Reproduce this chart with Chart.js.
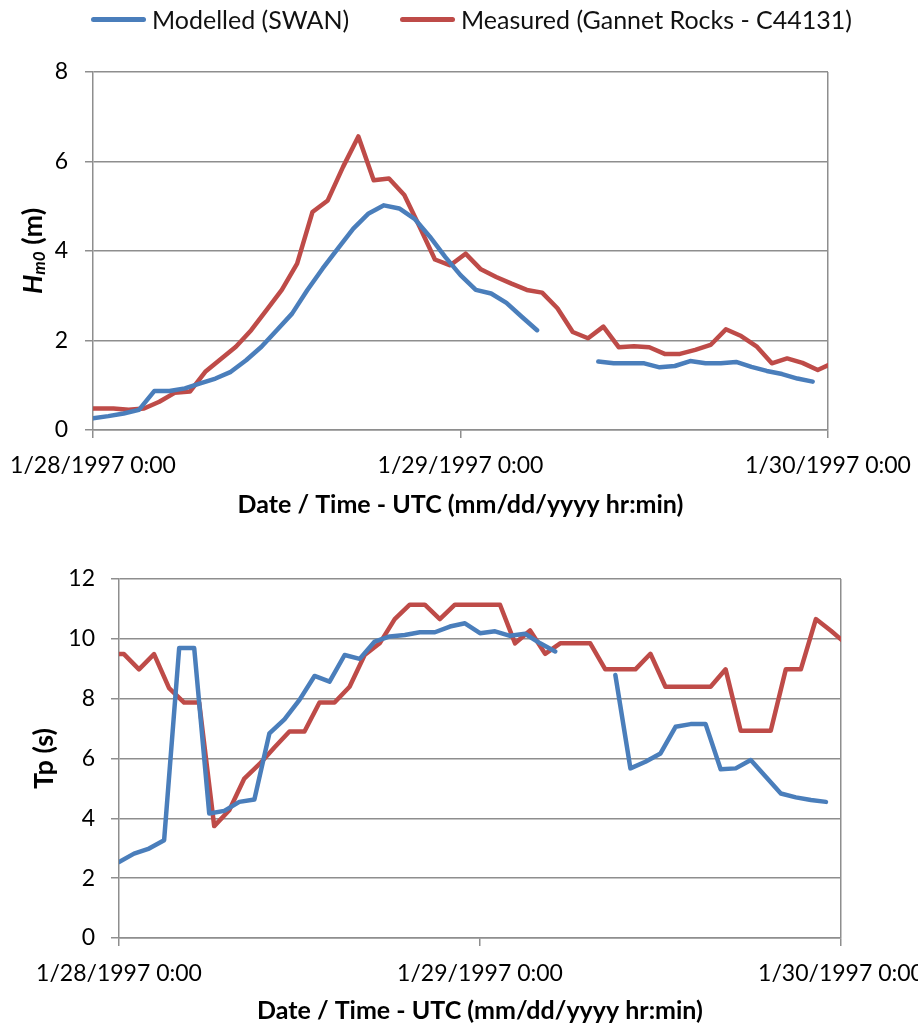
<!DOCTYPE html>
<html>
<head>
<meta charset="utf-8"/>
<title>SWAN vs Gannet Rocks</title>
<script src="https://cdn.jsdelivr.net/npm/chart.js@4.4.1/dist/chart.umd.min.js"></script>
<style>
	body { margin: 0; background: #fff; }
	#wrap { position: relative; width: 918px; height: 1029px; overflow: hidden; }
	canvas { position: absolute; left: 0; }
	#hmChart { top: 0; }
	#tpChart { top: 530px; }
	.legend-item { position: absolute; top: 4px; height: 30px; display: flex; align-items: center; font: 25px Lato, sans-serif; color: #111; white-space: nowrap; }
	.legend-item i { display: inline-block; width: 55px; height: 5px; border-radius: 3px; margin-right: 6px; }
</style>
</head>
<body>
<div id="wrap">
	<canvas id="hmChart" width="918" height="530"></canvas>
	<canvas id="tpChart" width="918" height="499"></canvas>
	<div class="legend-item" style="left:91px"><i style="background:#4a7ebb"></i>Modelled (SWAN)</div>
	<div class="legend-item" style="left:400px"><i style="background:#be4b48"></i>Measured (Gannet Rocks - C44131)</div>
</div>
<script>
	// tick positions (hours after 1/28/1997 0:00) and their labels
	const tickHours = [0, 24, 48];
	const tickLabels = ['1/28/1997 0:00', '1/29/1997 0:00', '1/30/1997 0:00'];

	// model output is hourly from 0:00, buoy records are at about hh:20, starting the hour before
	const modelStart = 0;
	const measuredStart = -0.67;

	// significant wave height Hm0 (m)
	const modelHm0 = [0.26, 0.31, 0.37, 0.45, 0.87, 0.87, 0.93, 1.04, 1.15, 1.30, 1.56, 1.86,
		2.23, 2.60, 3.13, 3.61, 4.06, 4.50, 4.84, 5.02, 4.95, 4.72, 4.32, 3.87,
		3.46, 3.13, 3.05, 2.84, 2.53, 2.23, null, null, null, 1.53, 1.49, 1.49,
		1.49, 1.40, 1.43, 1.54, 1.49, 1.49, 1.52, 1.41, 1.32, 1.25, 1.15, 1.08];
	const measuredHm0 = [0.48, 0.48, 0.48, 0.45, 0.48, 0.63, 0.83, 0.86, 1.30, 1.58, 1.86, 2.23, 2.68,
		3.13, 3.72, 4.87, 5.13, 5.88, 6.56, 5.58, 5.62, 5.25, 4.54, 3.81, 3.68,
		3.94, 3.59, 3.42, 3.27, 3.13, 3.07, 2.72, 2.19, 2.05, 2.31, 1.85, 1.87,
		1.85, 1.70, 1.70, 1.79, 1.90, 2.25, 2.10, 1.87, 1.49, 1.60, 1.50, 1.34, 1.50];

	// peak period Tp (s)
	const modelTp = [2.54, 2.82, 2.99, 3.27, 9.69, 9.69, 4.16, 4.25, 4.55, 4.63, 6.84, 7.31,
		7.96, 8.76, 8.57, 9.46, 9.33, 9.91, 10.08, 10.13, 10.22, 10.22, 10.41, 10.52,
		10.19, 10.25, 10.10, 10.17, 9.85, 9.58, null, null, null, 8.79, 5.67, 5.89,
		6.17, 7.06, 7.15, 7.15, 5.64, 5.67, 5.95, 5.39, 4.83, 4.70, 4.61, 4.55];
	const measuredTp = [9.49, 9.49, 8.98, 9.49, 8.35, 7.87, 7.87, 3.74, 4.27, 5.33, 5.81, 6.37, 6.90,
		6.90, 7.87, 7.87, 8.40, 9.46, 9.85, 10.66, 11.14, 11.14, 10.66, 11.14, 11.14,
		11.14, 11.14, 9.85, 10.28, 9.50, 9.85, 9.85, 9.85, 8.98, 8.98, 8.98, 9.50,
		8.40, 8.40, 8.40, 8.40, 8.98, 6.93, 6.93, 6.93, 8.98, 8.98, 10.66, 10.27, 9.84];

	const blue = '#4a7ebb';
	const red = '#be4b48';
	const gridColor = '#8e8e8e';
	const fontFamily = 'Lato, sans-serif';

	function toPoints(values, start)
	{
		return values.map((v, i) => ({ x: start + i, y: v }));
	}

	// rotated y axis title, drawn in pieces so Hm0 can have its subscript
	const yTitlePlugin = {
		id: 'yTitle',
		afterDraw(chart, args, opts)
		{
			const ctx = chart.ctx;
			const area = chart.chartArea;
			ctx.save();
			ctx.translate(opts.x, (area.top + area.bottom) / 2);
			ctx.rotate(-Math.PI / 2);
			ctx.fillStyle = '#000';
			ctx.textBaseline = 'middle';
			let total = 0;
			opts.parts.forEach(p => { ctx.font = p.font; total += ctx.measureText(p.text).width; });
			let x = -total / 2;
			opts.parts.forEach(p =>
			{
				ctx.font = p.font;
				ctx.fillText(p.text, x, p.dy || 0);
				x += ctx.measureText(p.text).width;
			});
			ctx.restore();
		}
	};

	function makeChart(id, cfg)
	{
		const tickFont = { family: fontFamily, size: 23 };
		return new Chart(document.getElementById(id), {
			type: 'line',
			data: {
				datasets: [
					{
						label: 'Modelled (SWAN)',
						data: toPoints(cfg.model, modelStart),
						borderColor: blue,
						borderWidth: 4.5
					},
					{
						label: 'Measured (Gannet Rocks - C44131)',
						data: toPoints(cfg.measured, measuredStart),
						borderColor: red,
						borderWidth: 4.5
					}
				]
			},
			options: {
				responsive: false,
				animation: false,
				devicePixelRatio: 1,
				layout: { padding: { left: 0, top: cfg.top, right: cfg.right, bottom: 0 } },
				elements: {
					point: { radius: 0 },
					line: { tension: 0, borderJoinStyle: 'round', borderCapStyle: 'round' }
				},
				datasets: { line: { clip: 0, spanGaps: false } },
				plugins: {
					legend: { display: false },
					tooltip: { enabled: false },
					yTitle: { x: cfg.titleX, parts: cfg.titleParts }
				},
				scales: {
					x: {
						type: 'linear',
						min: 0,
						max: 48,
						afterBuildTicks: s => { s.ticks = tickHours.map(v => ({ value: v })); },
						afterFit: s => { s.height = cfg.xHeight; s.paddingLeft = 0; s.paddingRight = 0; },
						ticks: {
							callback: (v) => tickLabels[tickHours.indexOf(v)],
							autoSkip: false,
							maxRotation: 0,
							padding: 14,
							color: '#000',
							font: tickFont
						},
						grid: {
							color: c => (c.tick && c.tick.value === 48) ? gridColor : 'rgba(0,0,0,0)',
							tickColor: gridColor,
							tickLength: 8,
							lineWidth: 1.5
						},
						border: { color: gridColor, width: 1.5 },
						title: {
							display: true,
							text: 'Date / Time - UTC (mm/dd/yyyy hr:min)',
							color: '#000',
							font: { family: fontFamily, size: 25, weight: 'bold' },
							padding: { top: 4, bottom: cfg.titlePad }
						}
					},
					y: {
						min: 0,
						max: cfg.yMax,
						afterFit: s => { s.width = cfg.left; },
						ticks: { stepSize: 2, padding: cfg.yPad, color: '#000', font: tickFont },
						grid: { color: gridColor, lineWidth: 1.5, tickLength: 8 },
						border: { color: gridColor, width: 1.5 }
					}
				}
			},
			plugins: [yTitlePlugin]
		});
	}

	makeChart('hmChart', {
		model: modelHm0,
		measured: measuredHm0,
		yMax: 8,
		top: 72,
		right: 90,
		left: 93,
		xHeight: 100,
		titlePad: 10,
		yPad: 17,
		titleX: 33,
		titleParts: [
			{ text: 'H', font: 'italic bold 27px ' + fontFamily },
			{ text: 'm0', font: 'italic bold 17px ' + fontFamily, dy: 7 },
			{ text: ' (m)', font: 'bold 27px ' + fontFamily }
		]
	});

	makeChart('tpChart', {
		model: modelTp,
		measured: measuredTp,
		yMax: 12,
		top: 49,
		right: 77,
		left: 119,
		xHeight: 91,
		titlePad: 3,
		yPad: 16,
		titleX: 44,
		titleParts: [{ text: 'Tp (s)', font: 'bold 27px ' + fontFamily }]
	});
</script>
</body>
</html>
